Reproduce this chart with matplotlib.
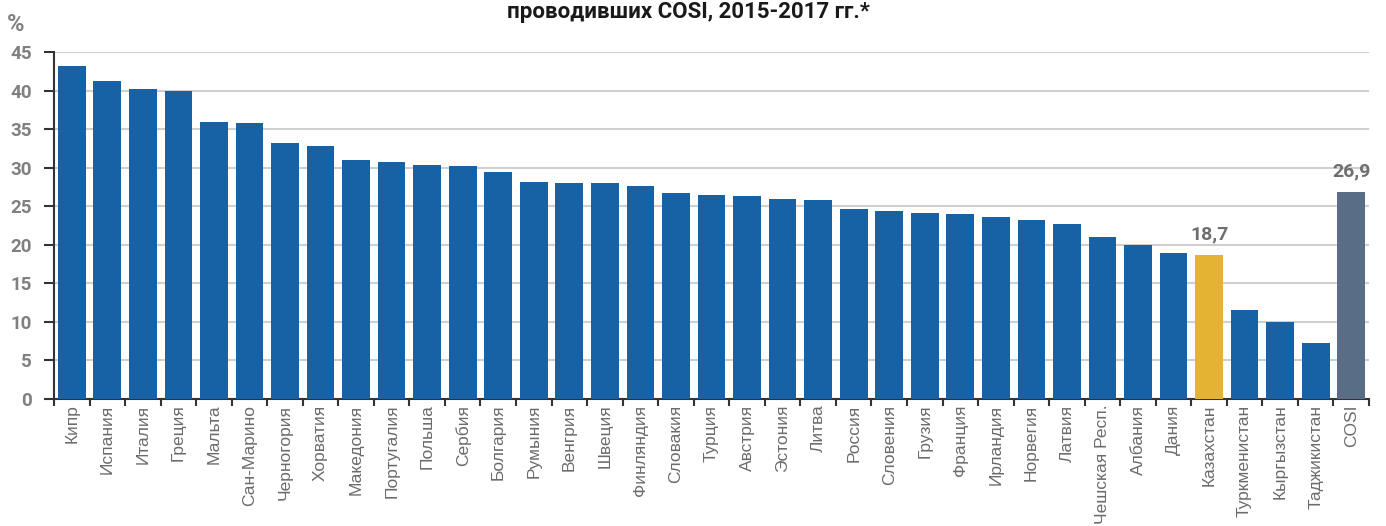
import matplotlib.pyplot as plt
import numpy as np

# Данные
countries = ['Кипр', 'Испания', 'Италия', 'Греция', 'Мальта', 'Сан-Марино',
             'Черногория', 'Хорватия', 'Македония', 'Португалия', 'Польша',
             'Сербия', 'Болгария', 'Румыния', 'Венгрия', 'Швеция', 'Финляндия',
             'Словакия', 'Турция', 'Австрия', 'Эстония', 'Литва', 'Россия',
             'Словения', 'Грузия', 'Франция', 'Ирландия', 'Норвегия', 'Латвия',
             'Чешская Респ.', 'Албания', 'Дания', 'Казахстан', 'Туркменистан',
             'Кыргызстан', 'Таджикистан', 'COSI']
values = [43.2, 41.3, 40.2, 39.9, 35.9, 35.8, 33.2, 32.8, 31.0, 30.7, 30.3,
          30.2, 29.4, 28.2, 28.0, 28.0, 27.6, 26.7, 26.4, 26.3, 26.0, 25.8,
          24.6, 24.4, 24.1, 24.0, 23.6, 23.2, 22.7, 21.0, 20.0, 18.9, 18.7,
          11.5, 10.0, 7.3, 26.9]
labelled = {'Казахстан': '18,7', 'COSI': '26,9'}

blue = '#1762a5'
yellow = '#e5b334'
slate = '#596e86'
colors = [yellow if c == 'Казахстан' else slate if c == 'COSI' else blue
          for c in countries]

plt.rcParams['font.family'] = ['Liberation Sans', 'DejaVu Sans']

fig = plt.figure(figsize=(13.86, 5.26), dpi=100)
ax = fig.add_axes([54 / 1386, 127 / 526, 1315 / 1386, 347 / 526])

x = np.arange(len(countries))
ax.bar(x, values, width=0.78, color=colors, zorder=3)

# подписи значений
for i, c in enumerate(countries):
    if c in labelled:
        ax.text(i, values[i] + 1.5, labelled[c], ha='center', va='bottom',
                fontsize=14, fontweight='bold', color='#6e6e6e',
                family=['Roboto', 'DejaVu Sans'])

ax.set_xlim(-0.5, len(countries) - 0.5)
ax.set_ylim(0, 45)
ax.set_yticks(np.arange(0, 46, 5))
ax.set_xticks(np.arange(-0.5, len(countries), 1))
ax.set_xticklabels([])
ax.set_xticks(x, minor=True)
ax.set_xticklabels(countries, minor=True, rotation=90, fontsize=12.5,
                   color='#6b6b6b')
ax.tick_params(axis='x', which='minor', length=0, pad=4)
ax.tick_params(axis='x', which='major', length=5, width=1.5, color='#333333')
ax.tick_params(axis='y', length=7, width=1.5, color='#333333', pad=9,
               labelsize=13.5, labelcolor='#808080')
for lab in ax.get_yticklabels():
    lab.set_fontweight('bold')
    lab.set_family(['Roboto', 'DejaVu Sans'])

ax.grid(axis='y', color='#d0d0d0', linewidth=1.5, zorder=0)
for s in ['top', 'right']:
    ax.spines[s].set_visible(False)
for s in ['left', 'bottom']:
    ax.spines[s].set_color('#333333')
    ax.spines[s].set_linewidth(1.5)

fig.text(7 / 1386, 1 - 31 / 526, '%', fontsize=17, fontweight='bold',
         color='#808080', family=['Roboto', 'DejaVu Sans'])
fig.text(688 / 1386, 1 - 18 / 526, 'проводивших COSI, 2015-2017 гг.*',
         ha='center', va='baseline', fontsize=16, fontweight='bold',
         color='#1a1a1a', family=['Roboto', 'DejaVu Sans'])

fig.savefig('out.png', dpi=100)
